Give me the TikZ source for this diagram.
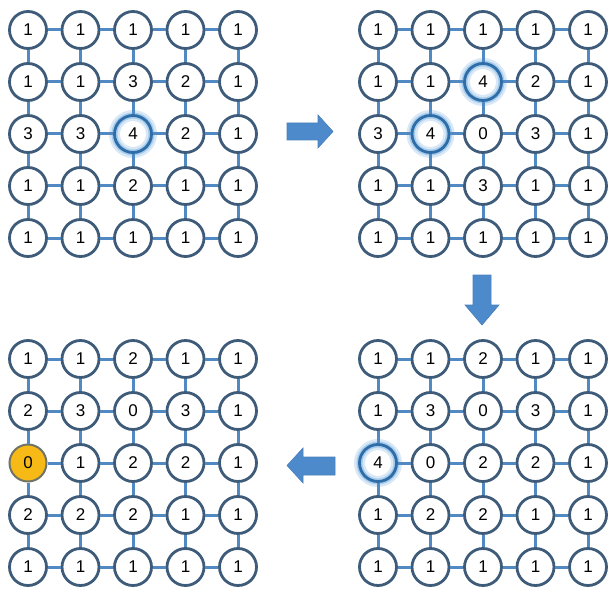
\documentclass[tikz,border=0pt]{standalone}
\usepackage{fontspec}
\setmainfont{Liberation Sans}
\definecolor{ringcol}{HTML}{3E5C7A}
\definecolor{linkcol}{HTML}{5189C2}
\definecolor{hotcol}{HTML}{2E6DA8}
\definecolor{glowA}{HTML}{D8E8F6}
\definecolor{glowB}{HTML}{A8CCEB}
\definecolor{arrowcol}{HTML}{4D8ACB}
\definecolor{arrowedge}{HTML}{4A7FBA}
\definecolor{orangecol}{HTML}{F6B916}
\definecolor{orangeedge}{HTML}{6F7466}
\tikzset{
  cell/.style={circle, draw=ringcol, line width=2.8pt, fill=white, minimum size=37pt,
    inner sep=0pt, font=\fontsize{17}{17}\selectfont},
  hot/.style={fill=none, draw=hotcol, line width=2.8pt,
    preaction={fill=white},
    preaction={draw=glowA, line width=11pt},
    preaction={draw=glowB, line width=6pt}},
  orangecell/.style={fill=orangecol, draw=orangeedge, line width=2pt},
  link/.style={draw=linkcol, line width=3pt},
  blockarrow/.style={fill=arrowcol, draw=arrowedge, line width=0.6pt},
  pick/.code={\ifcsname cs@#1\endcsname
      \edef\tmpstyle{\csname cs@#1\endcsname}%
      \expandafter\pgfkeysalso\expandafter{\tmpstyle}\fi}
}
\expandafter\def\csname cs@TL-2-2\endcsname{hot}
\expandafter\def\csname cs@TR-2-1\endcsname{hot}
\expandafter\def\csname cs@TR-1-2\endcsname{hot}
\expandafter\def\csname cs@BR-0-2\endcsname{hot}
\expandafter\def\csname cs@BL-0-2\endcsname{orangecell}
\newcommand\drawgrid[4]{%
  \foreach \row [count=\j from 0] in {#4} {
    \foreach \v [count=\i from 0] in \row {
      \node[cell, pick=#1-\i-\j] (#1-\i-\j) at ({#2+52.5*\i},{#3+52*\j}) {\v};
    }
  }
  \foreach \a in {0,...,4} {
    \foreach \b [evaluate=\b as \bn using int(\b+1)] in {0,...,3} {
      \draw[link] (#1-\a-\b) -- (#1-\a-\bn);
      \draw[link] (#1-\b-\a) -- (#1-\bn-\a);
    }
  }
}
\begin{document}
\begin{tikzpicture}[x=1pt, y=-1pt]
\useasboundingbox (0,0) rectangle (608,591);
\drawgrid{TL}{28}{30}{{1,1,1,1,1},{1,1,3,2,1},{3,3,4,2,1},{1,1,2,1,1},{1,1,1,1,1}}
\drawgrid{TR}{378}{30}{{1,1,1,1,1},{1,1,4,2,1},{3,4,0,3,1},{1,1,3,1,1},{1,1,1,1,1}}
\drawgrid{BR}{378}{359}{{1,1,2,1,1},{1,3,0,3,1},{4,0,2,2,1},{1,2,2,1,1},{1,1,1,1,1}}
\drawgrid{BL}{28}{359}{{1,1,2,1,1},{2,3,0,3,1},{0,1,2,2,1},{2,2,2,1,1},{1,1,1,1,1}}
% block arrows
\path[blockarrow] (287,123) -- (318,123) -- (318,115) -- (333,131.5) -- (318,148) -- (318,140) -- (287,140) -- cycle;
\path[blockarrow] (473,275) -- (491,275) -- (491,305) -- (499,305) -- (482,325) -- (465,305) -- (473,305) -- cycle;
\path[blockarrow] (335,457) -- (303,457) -- (303,448) -- (287,465.5) -- (303,483) -- (303,475) -- (335,475) -- cycle;
\end{tikzpicture}
\end{document}
